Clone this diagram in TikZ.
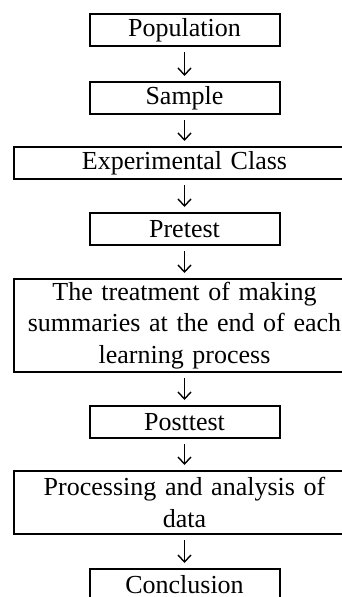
\documentclass[tikz,border=0pt]{standalone}
\usepackage{fontspec}
\setmainfont{Liberation Serif}
\usetikzlibrary{arrows.meta}
\begin{document}
\begin{tikzpicture}[x=1pt,y=-1pt,
  box/.style={draw, line width=2pt, inner sep=0pt, minimum width=190pt, minimum height=32pt,
    font=\fontsize{26}{31.5}\selectfont, align=center},
  widebox/.style={box, minimum width=341pt, text width=335pt},
  flow/.style={-{Straight Barb[length=7pt,width=13pt,line width=1.4pt]}, line width=1.4pt,
    shorten <=5pt, shorten >=5pt}]
\useasboundingbox (0,0) rectangle (342,597);
\clip (0,0) rectangle (342,597);
\node[box] (pop) at (184.5,30) {Population};
\node[box] (samp) at (184.5,98) {Sample};
\node[widebox] (exp) at (184.5,163) {Experimental Class};
\node[box] (pre) at (184.5,229) {Pretest};
\node[widebox, minimum height=93pt] (treat) at (184.5,325.5) {The treatment of making\\summaries at the end of each\\learning process};
\node[box] (post) at (184.5,422) {Posttest};
\node[widebox, minimum height=63pt] (proc) at (184.5,502.5) {Processing and analysis of\\data};
\node[box] (conc) at (184.5,585) {Conclusion};
\draw[flow] (pop) -- (samp);
\draw[flow] (samp) -- (exp);
\draw[flow] (exp) -- (pre);
\draw[flow] (pre) -- (treat);
\draw[flow] (treat) -- (post);
\draw[flow] (post) -- (proc);
\draw[flow] (proc) -- (conc);
\end{tikzpicture}
\end{document}
